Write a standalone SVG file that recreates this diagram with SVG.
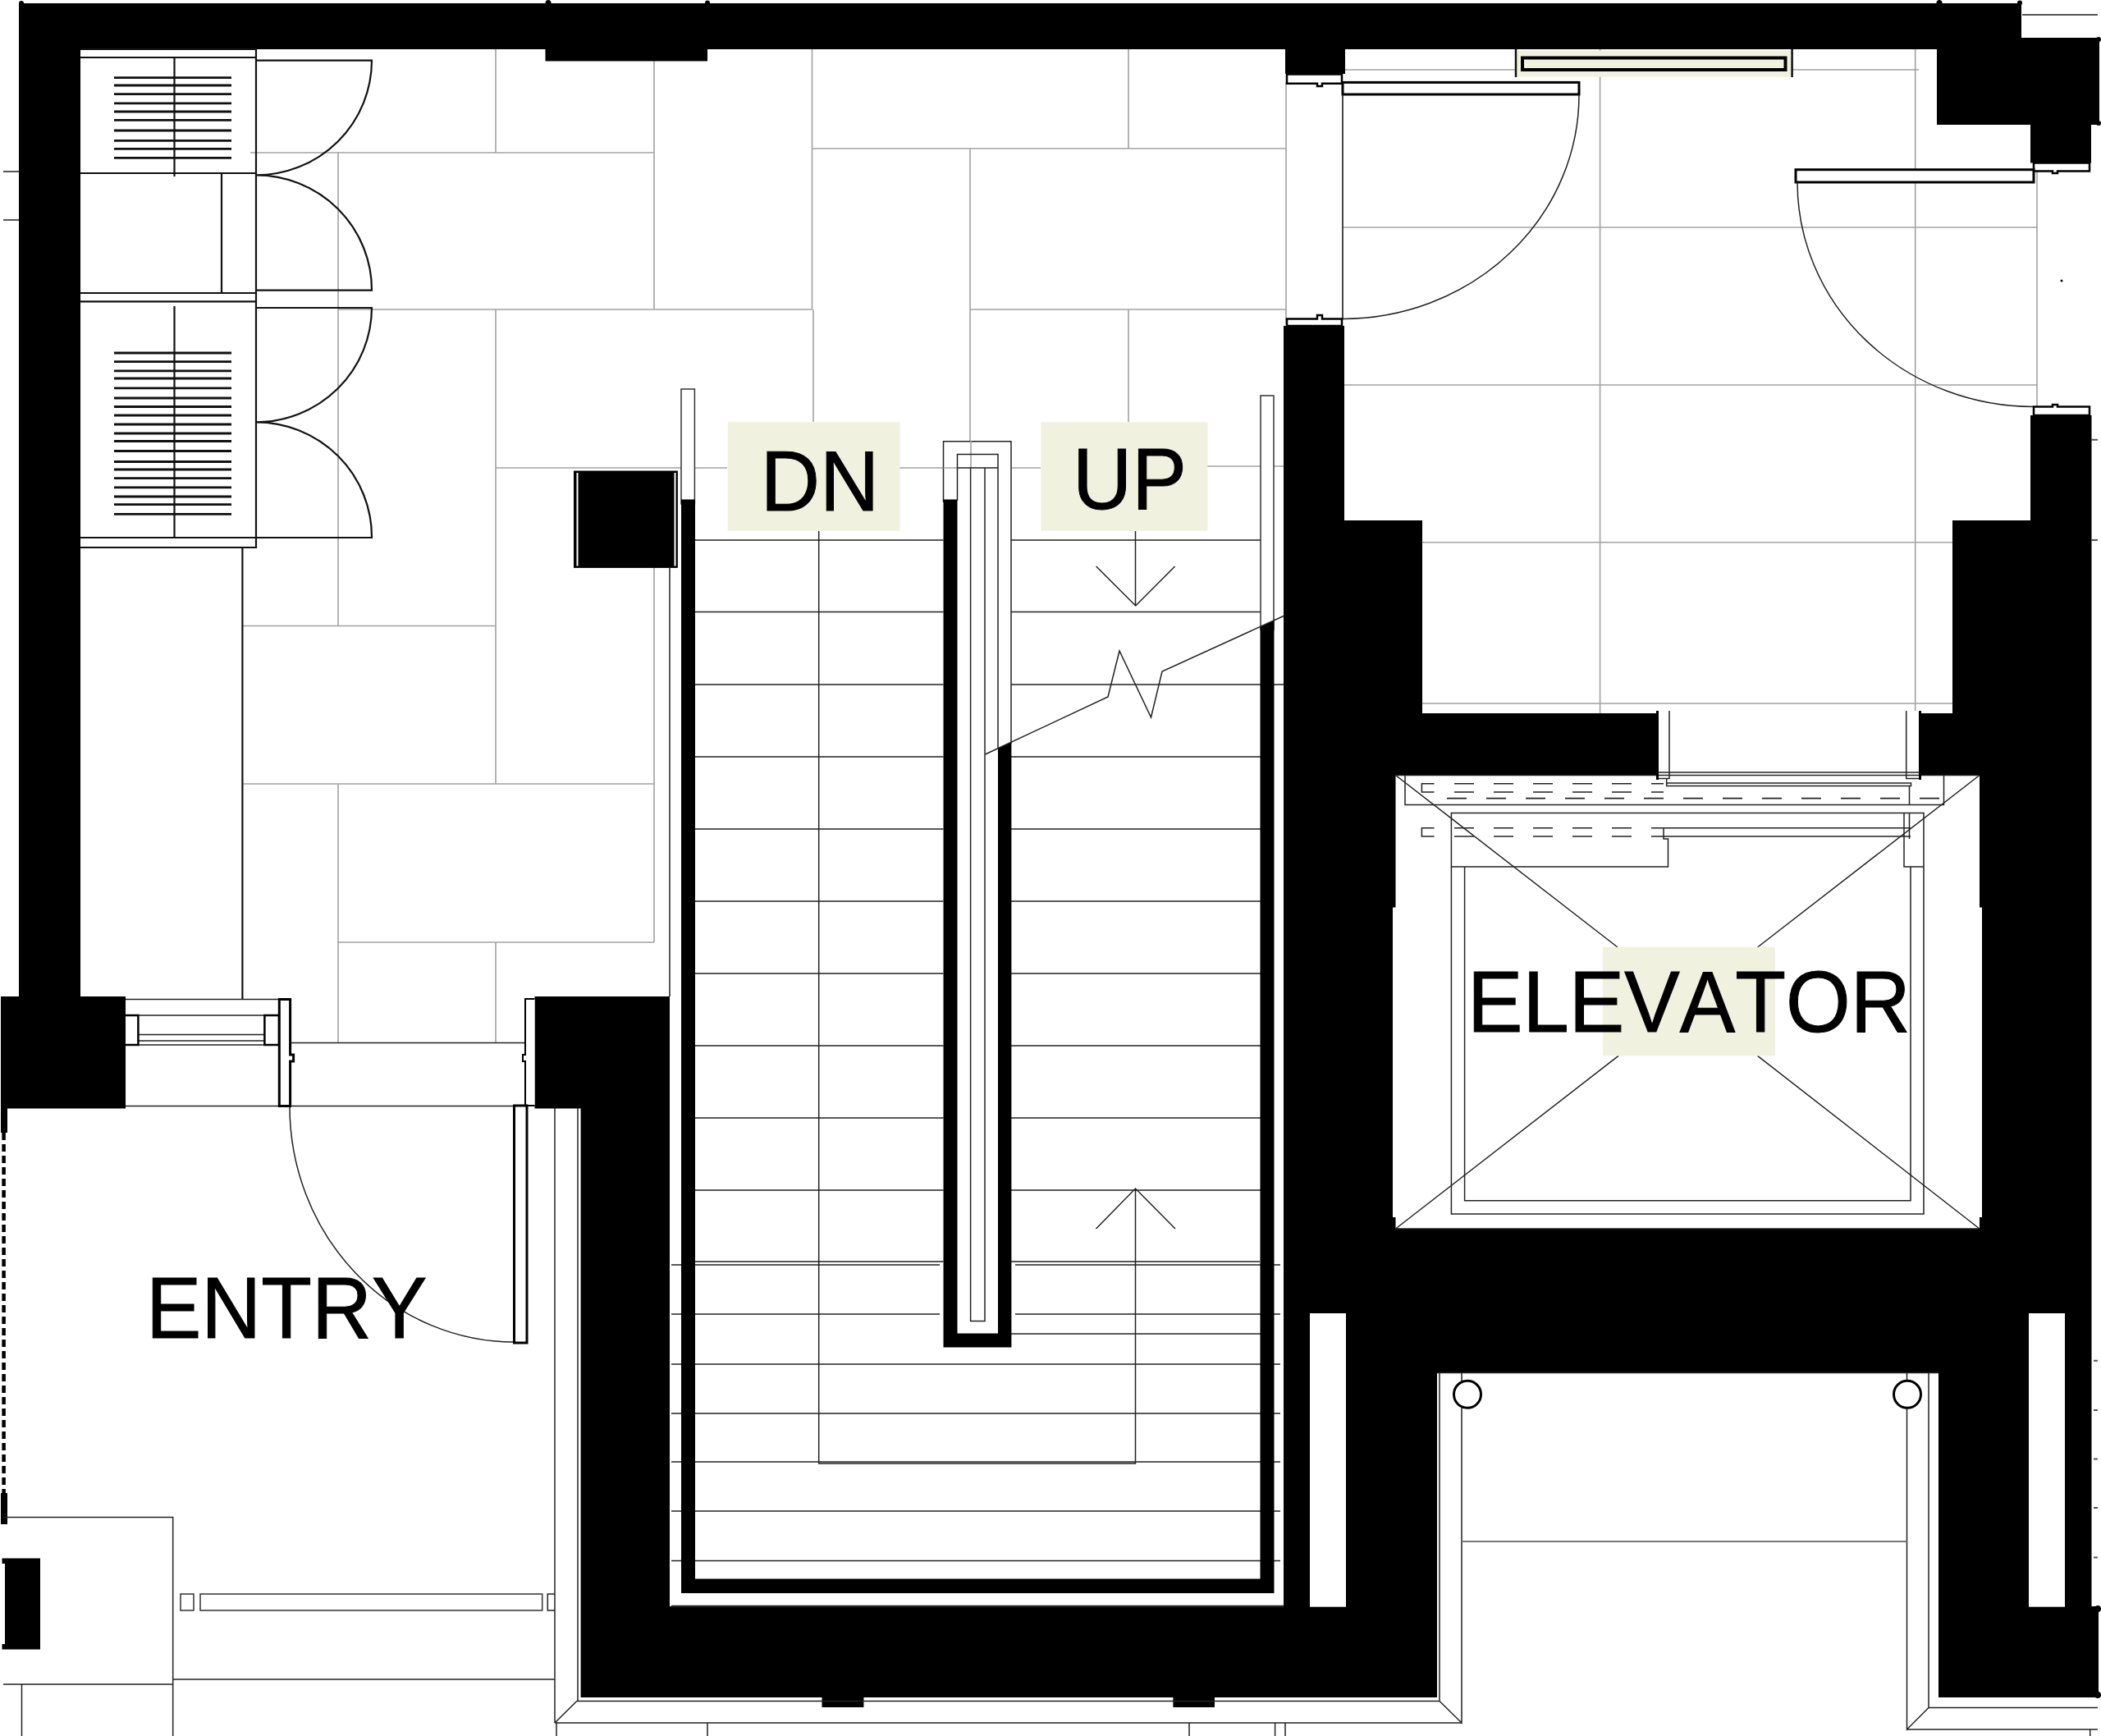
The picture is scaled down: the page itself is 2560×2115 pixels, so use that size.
<svg xmlns="http://www.w3.org/2000/svg" width="2560" height="2115" viewBox="0 0 2560 2115">
<style>
.k{fill:#000;stroke:none}
.w{fill:#fff;stroke:none}
.g{fill:none;stroke:#a2a2a2;stroke-width:1.6}
.t{fill:none;stroke:#222;stroke-width:1.5}
.m{fill:none;stroke:#111;stroke-width:2.2}
.b{fill:#fff;stroke:#000;stroke-width:3}
.f{fill:#fff;stroke:#333;stroke-width:1.5}
.s{fill:#f1f1e0;stroke:none}
.l{font-family:"Liberation Sans",Arial,sans-serif;font-size:100px;fill:#000;stroke:#000;stroke-width:1;font-kerning:none}
.d{fill:none;stroke:#222;stroke-width:1.6;stroke-dasharray:24 24}
</style>
<rect id="background" width="2560" height="2115" fill="#fff"/>
<g id="tile-grid">
<path class="g" d="M305 186H797M604 60V186M797 70V377M412 186V762M412 377H989.5M989.5 60V377M989.5 181H1567M1182 181V570M1375 60V181M1182 377H1567M604 377V955M991 377V514M1375 377V514M604 570H886M1096 570H1268M1471 568H1564M296 762.5H604M296 955H797M797 691V1148M412 955V1270M412 1148H797M604 1148V1270M1567 100V395M1636 115V390"/>
<path class="g" d="M1636 85H1847M2183 85H2338M1637 277H2482M1637 469H2482M1730 660.7H2383M1730 857H2383M1949.6 60V869M2333.7 60V869M2482 205V495"/>
</g>
<g id="walls">
<path class="k" d="M23 4H2463V46H2558V152H2548V198.6H2474V152H2360V60H1639V90H1566V60H862V74.5H664.5V60H98V1214H153V1350.5H1V1214H23Z"/>
<path class="k" d="M1564 397H1638V634H1733V869H2379V634H2474V506H2548.5V1957H2557V2068H2362V1672.4H1751V2068H1480V2080H1429.4V2068H1052.4V2080H1001.5V2068H707.6V1350.5H651.5V1214H816V1957H1564Z"/>
<circle class="k" cx="26" cy="4" r="3"/><circle class="k" cx="668" cy="3.5" r="3.5"/><circle class="k" cx="862" cy="3.5" r="3"/><circle class="k" cx="2363" cy="3.5" r="3.5"/><circle class="k" cx="2461" cy="3.5" r="3"/><circle class="k" cx="2557" cy="48" r="3"/><circle class="k" cx="2557" cy="150" r="3"/><circle class="k" cx="2556" cy="1960" r="4"/><circle class="k" cx="2556" cy="2065" r="4"/>
<rect class="k" x="1" y="1350" width="8" height="30"/>
<rect class="k" x="1" y="1819" width="8" height="38"/>
<path d="M4.6 1380V1819" fill="none" stroke="#000" stroke-width="4.5" stroke-dasharray="9 5"/>
<path class="k" d="M2.5 1898.5H49V2009.5H2.5V2003H6V1905H2.5Z"/>
<rect class="w" x="1596" y="1600" width="44" height="357.7"/>
<rect class="w" x="2472" y="1600" width="44" height="357.7"/>
<rect class="w" x="2020" y="866" width="319" height="84"/>
<rect class="k" x="699" y="573.7" width="126.5" height="118"/>
<rect x="700" y="574.5" width="125" height="116.5" fill="none" stroke="#000" stroke-width="1.5"/>
<path d="M703.5 576V689.5M822.5 576V689.5" stroke="#fff" stroke-width="2" fill="none"/>
</g>
<g id="ahu-panels">
<path class="m" d="M98 60H312V667H98M98 70H312M98 211H312M98 357H312M98 367.4H312M98 655H312M270 211V357M212.5 70V215M212.5 373V655M295.4 667V1217"/>
<path class="m" style="stroke-width:2.8" d="M139 94.6H282M139 104H282M139 114.7H282M139 125.9H282M139 136H282M139 146.4H282M139 159H282M139 171.4H282M139 181.3H282M139 192.4H282M139 430H282M139 440.6H282M139 451.8H282M139 461H282M139 472.8H282M139 485H282M139 495.5H282M139 506H282M139 517H282M139 528H282M139 537.5H282M139 549.5H282M139 562.5H282M139 572H282M139 582.6H282M139 593.8H282M139 605H282M139 614.7H282M139 626.3H282"/>
<path class="m" d="M312 73.6H453A141 140 0 0 1 312 213.4A141 140 0 0 1 453 353.6H312M312 375H453A141 140 0 0 1 312 514.3A141 140 0 0 1 453 655H312"/>
</g>
<g id="stair">
<path class="t" d="M846 658H1150M1232 658H1536M846 745.5H1150M1232 745.5H1536M846 834H1150M1232 834H1564M846 922H1150M1232 922H1536M846 1010H1150M1232 1010H1536M846 1098H1150M1232 1098H1536M846 1186H1150M1232 1186H1536M846 1274H1150M1232 1274H1536M846 1362H1150M1232 1362H1536M846 1450H1150M1232 1450H1536"/>
<path class="t" d="M847 1537H1150M1232 1537H1535M818 1541H1145M1237 1541H1560M818 1601H1145M1237 1601H1560M1232 1625H1536M818 1662H1560M818 1722H1560M818 1781H1560M818 1841H1560M818 1901.6H1560"/>
<path class="t" d="M997.7 647V1783H1383.5V1448M1383.5 647V738M816 691V1214M1335.7 690L1383.7 738L1431.6 690M1335.5 1497L1383.5 1448L1432 1497"/>
<rect class="f" x="830" y="474" width="16.4" height="140"/>
<rect class="f" x="1536" y="482" width="16" height="285"/>
<path class="k" d="M830 608.5H847V1923.5H1535.5V763L1552.5 756V1941H830Z"/>
<rect class="w" x="1149.5" y="537.7" width="82.5" height="1100"/>
<path class="t" d="M1149.5 612V537.7H1232V906"/>
<path class="g" d="M1183 537V570M1149.5 570H1166.5"/>
<path class="k" d="M1149.5 608.5H1166.5V1624.6H1216V911.7L1232.4 904V1641.6H1149.5Z"/>
<path class="t" d="M1166.5 610V553.4H1216V912M1166.5 570H1216M1182.6 570V1609.6H1200V570"/>
<path class="t" d="M1200.5 919L1350 849L1364 793L1402.5 874L1416 818L1564 750.5"/>
<path class="t" d="M818 1957H1564" style="stroke-width:2.5"/>
</g>
<g id="shaft">
<path class="w" d="M1700.5 944.5H2412V1105.6H2415V1483H2412V1497H1700.5V1483H1697V1105.6H1700.5Z"/>
<path class="t" d="M1700.5 944.5H2412M1700.5 1497H2412M1700.5 944.5L1971 1154M2412 944.5L2141.6 1154M1700.5 1497L1972 1286.4M2412 1497L2141.6 1286.4"/>
<path class="t" d="M1712 944.5V980.6H2368.5V944.5M2020 866V941H2339V866M2034 866V948.5H2020M2322.7 866V948.5H2339M2020 948.5V941M2339 948.5V941M2030.7 948.5V957.4H2328.5V954H2030.7M2326.5 957V980.6"/>
<path class="t" d="M1768.4 1056V990.4H2344V1056H2320V990.4M1768.4 1056H2032.5V1022H2027V1008.8H2328M2027 1019H2328M2326.5 990.4V1022M1768.4 1056V1479H2344V1056M1784.6 1056V1462.8H2328V1056"/>
<path class="t" d="M1747.5 954.7H1732.4V965H1747.5M1747.5 1008.8H1732.4V1019H1747.5"/>
<path class="d" d="M1772 954.7H2027M1772 965H2027M1772 1008.8H2027M1772 1019H2027M1763 972.6H2367"/>
<path class="k" d="M2018 866H2021V950H2018ZM2338 866H2341V950H2338Z"/>
</g>
<g id="entry">
<path class="t" d="M153 1217.6H340M153 1237H340M153 1347.6H627M353.6 1270.6H640M168 1260.5H322M168 1268H322M168 1273H322M676 1350V2099M704 1350V2072.5M4 1848.5H210.7V2115M4 2052H210.7M26.5 2052V2115M210.7 2046H676M353 1348A274 287 0 0 0 627 1635"/>
<path class="b" style="stroke-width:2.5" d="M153 1237H168.4V1273H153M322.4 1237H340V1273H322.4Z"/>
<path class="b" d="M340.3 1217.6H353.6V1285H357.6V1293H353.6V1347.6H340.3Z"/>
<path class="b" style="stroke-width:2" d="M651.5 1217H640V1285H637V1293H640V1347H651.5"/>
<rect class="b" x="626.5" y="1347" width="15.5" height="289"/>
<rect class="f" x="220" y="1942" width="16" height="20"/>
<rect class="f" x="244" y="1942" width="416.7" height="20"/>
<path class="t" d="M676 1942H667.3V1962H676"/>
<path class="t" d="M676 2099H1781M702.7 2072.5H1754M676 2099L702.7 2072.5M678 2099V2115M862 2099V2115M1449 2099V2115M1553.6 2099V2115M1566 2099V2115"/>
</g>
<g id="vestibule">
<path class="b" style="stroke-width:2.5" d="M1568 90.6H1635V101.8H1611V105H1605V101.8H1568Z"/>
<rect class="b" x="1636" y="100.4" width="288" height="14.6"/>
<path class="t" d="M1924 115A288 273 0 0 1 1636 388.4M1636 115V388"/>
<path class="b" style="stroke-width:2.5" d="M1568 388.5H1605V384H1611V388.5H1635V397H1568Z"/>
<path class="b" style="stroke-width:2.5" d="M2478 198.6H2546V208.5H2507V211H2501V208.5H2478Z"/>
<rect class="b" x="2188" y="206.7" width="290" height="15.3"/>
<path class="t" d="M2190 222A288 273.5 0 0 0 2478 495.5"/>
<path class="b" style="stroke-width:2.5" d="M2478 495.5H2501V493H2507V495.5H2546V506H2478Z"/>
<rect class="s" x="1847" y="61.6" width="336.6" height="32"/>
<path class="m" style="stroke-width:2.5" d="M1847 60V94M2183.6 60V94"/>
<rect x="1855" y="70.5" width="320.5" height="14.5" fill="#f1f1e0" stroke="#000" stroke-width="4"/>
<circle class="k" cx="2512" cy="342" r="1.5"/>
</g>
<g id="lower-court">
<path class="t" d="M1754 1672.4V2072.5L1781 2099V1672.4M2323.5 1672.4V2107L2350 2080.5V1672.4M1751 1672.4H2362M2350 2080.5H2556M2323.5 2107H2556M2546.7 2107V2115"/>
<path class="t" style="stroke:#777;stroke-width:2.2" d="M1781 1878H2323.5"/>
<circle cx="1788" cy="1698.8" r="16.5" fill="#fff" stroke="#000" stroke-width="3"/>
<circle cx="2324" cy="1698.8" r="16.5" fill="#fff" stroke="#000" stroke-width="3"/>
</g>
<g id="edge-marks">
<path style="fill:none;stroke:#555;stroke-width:2" d="M4 209H23M4 268H23M2464 18H2556M2548 535.7H2556M2548 658H2556M2551 1657.7H2556M2551 1718H2556M2551 1777.6H2556M2551 1837H2556M2551 1897.5H2556"/>
</g>
<g id="label-dn">
<rect class="s" x="886.7" y="514.3" width="209.7" height="132.5"/>
<text class="l" transform="translate(926.7 622) scale(1 1.04)">DN</text>
</g>
<g id="label-up">
<rect class="s" x="1268.4" y="514.3" width="203" height="132.5"/>
<text class="l" transform="translate(1307 620) scale(1 1.06)">UP</text>
</g>
<g id="label-elevator">
<rect class="s" x="1953" y="1153.8" width="210" height="132.6"/>
<text class="l" transform="translate(1788 1257.4) scale(1.012 1.06)">ELEVATOR</text>
</g>
<g id="label-entry">
<text class="l" transform="translate(178 1630) scale(1.01 1.05)">ENTRY</text>
</g>
</svg>
